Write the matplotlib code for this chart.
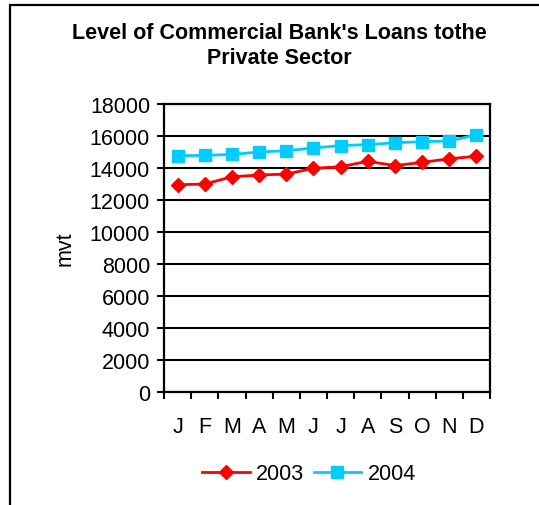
import matplotlib.pyplot as plt
from matplotlib.patches import Rectangle

plt.rcParams['font.family'] = ['Liberation Sans', 'DejaVu Sans']

months = ['J', 'F', 'M', 'A', 'M', 'J', 'J', 'A', 'S', 'O', 'N', 'D']
loans_2003 = [12950, 13000, 13450, 13560, 13620, 13980, 14080, 14420, 14150, 14350, 14580, 14730]
loans_2004 = [14770, 14790, 14850, 15000, 15080, 15250, 15400, 15460, 15580, 15640, 15690, 16080]
yticks = list(range(0, 18001, 2000))

W, H = 539, 506
fig = plt.figure(figsize=(W / 100, H / 100), dpi=100)

# outer chart frame, running off the right and bottom edges
fig.patches.append(Rectangle((10 / W, -0.1), 1.2, (H - 6) / H + 0.1,
                             transform=fig.transFigure, fill=False,
                             edgecolor='black', linewidth=1.6))

ax = fig.add_axes([164 / W, 113 / H, 326 / W, 288 / H])
x = range(len(months))
ax.plot(x, loans_2003, color='#ff0000', linewidth=2, marker='D',
        markersize=7.5, label='2003')
ax.plot(x, loans_2004, color='#00ccff', linewidth=2, marker='s',
        markersize=8, label='2004')

ax.set_xlim(-0.5, len(months) - 0.5)
ax.set_ylim(0, 18000)
ax.set_yticks(yticks)
ax.set_yticklabels([str(v) for v in yticks], fontsize=15.5)
ax.yaxis.grid(True, color='black', linewidth=1.5)
ax.set_axisbelow(True)

# x ticks sit on category boundaries, labels in the middle
ax.set_xticks([i - 0.5 for i in range(len(months) + 1)])
ax.set_xticklabels([])
ax.set_xticks(list(x), minor=True)
ax.set_xticklabels(months, minor=True, fontsize=15.5)
ax.tick_params(axis='x', which='minor', length=0, pad=17)
ax.tick_params(axis='x', which='major', length=5, width=1.5, direction='out')
ax.tick_params(axis='y', length=5, width=1.5, direction='out', pad=5)
for s in ax.spines.values():
    s.set_linewidth(1.6)

ax.set_ylabel('mvt', fontsize=15.5, labelpad=10)

fig.text(279.5 / W, 1 - 46 / H, "Level of Commercial Bank's Loans tothe\nPrivate Sector",
         ha='center', va='center', fontsize=15.5, fontweight='bold', linespacing=1.2)

fig.legend(loc='center', bbox_to_anchor=(309 / W, 1 - 475 / H), ncol=2,
           frameon=False, fontsize=15.5, handlelength=2.2, handletextpad=0.3,
           columnspacing=0.45)

fig.savefig('out.png', dpi=100)
